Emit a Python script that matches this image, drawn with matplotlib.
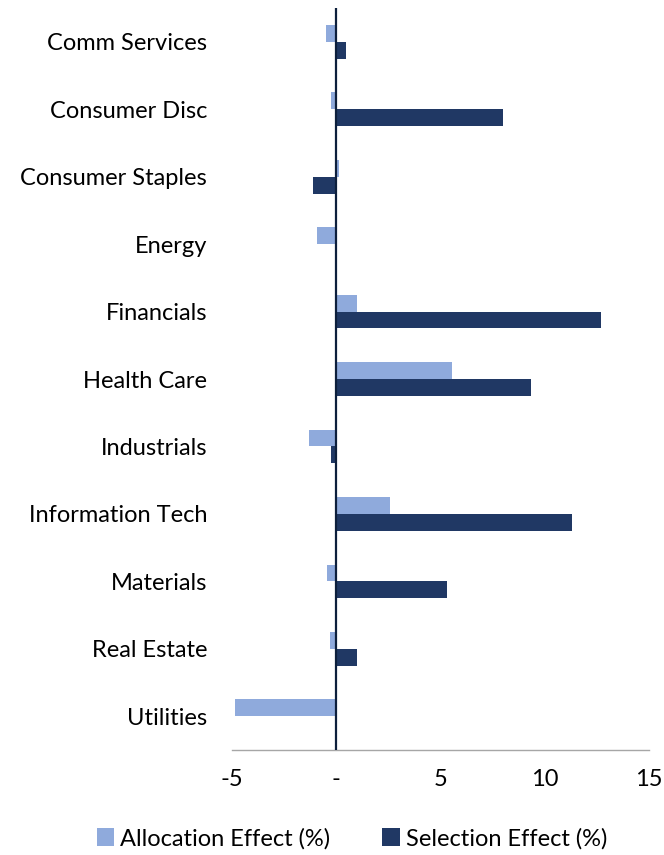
import numpy as np
import matplotlib
matplotlib.use('Agg')
import matplotlib.pyplot as plt
from matplotlib.ticker import FuncFormatter

plt.rcParams['font.family'] = ['Lato', 'DejaVu Sans']

sectors = ['Comm Services', 'Consumer Disc', 'Consumer Staples', 'Energy', 'Financials',
           'Health Care', 'Industrials', 'Information Tech', 'Materials', 'Real Estate',
           'Utilities']
allocation = [-0.5, -0.25, 0.15, -0.9, 1.0, 5.55, -1.3, 2.6, -0.45, -0.3, -4.85]
selection = [0.45, 8.0, -1.1, 0.0, 12.7, 9.35, -0.25, 11.3, 5.3, 1.0, 0.0]

fig = plt.figure(figsize=(6.64, 8.55), dpi=100)
ax = fig.add_axes([0.3494, 0.1228, 0.628, 0.8678])

y = np.arange(len(sectors))
h = 0.25
ax.barh(y - h / 2, allocation, height=h, color='#8FAADC', label='Allocation Effect (%)')
ax.barh(y + h / 2, selection, height=h, color='#203864', label='Selection Effect (%)')

ax.axvline(0, color='#0D1F3C', lw=1.6, zorder=3)
ax.set_xlim(-5, 15)
ax.set_ylim(len(sectors) - 0.5, -0.5)
ax.set_yticks(y)
ax.set_yticklabels(sectors)
ax.set_xticks([-5, 0, 5, 10, 15])
ax.xaxis.set_major_formatter(FuncFormatter(lambda v, p: '-' if v == 0 else f'{v:g}'))

for s in ['top', 'right', 'left']:
    ax.spines[s].set_visible(False)
ax.spines['bottom'].set_color('#A6A6A6')
ax.spines['bottom'].set_linewidth(1)
ax.tick_params(axis='both', length=0, labelsize=17)
ax.tick_params(axis='y', pad=18)
ax.tick_params(axis='x', pad=14)

fig.legend(loc='lower center', bbox_to_anchor=(0.53, -0.018), ncol=2, frameon=False,
           fontsize=17, handlelength=0.75, handleheight=0.75, handletextpad=0.25,
           columnspacing=2.2)

fig.savefig('out.png', dpi=100)
